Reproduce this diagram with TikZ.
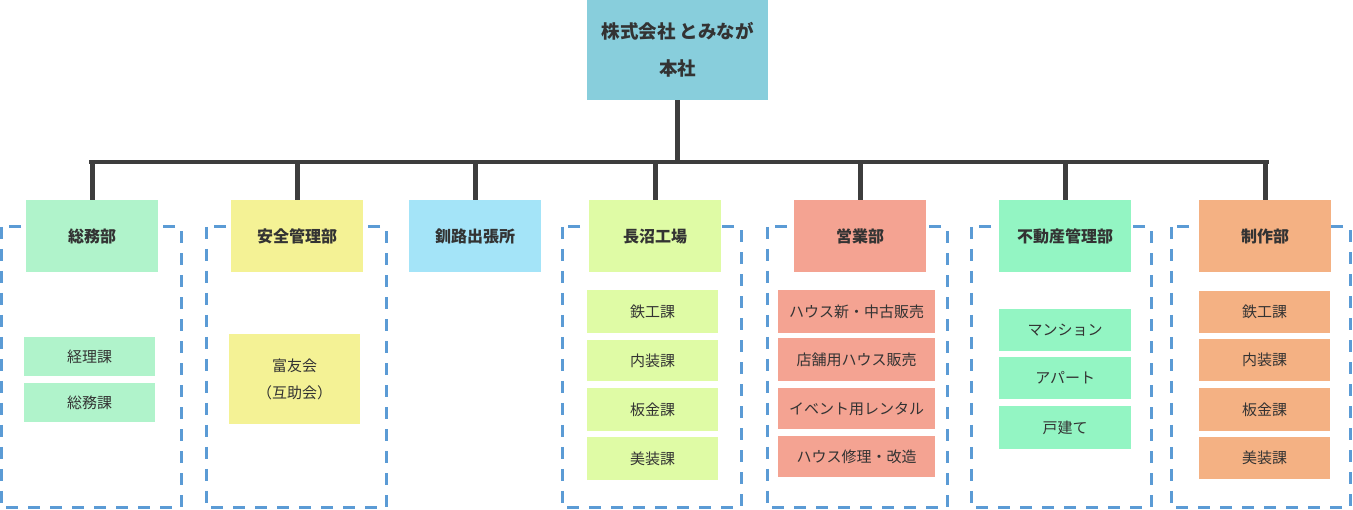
\documentclass[tikz,border=0pt]{standalone}
\usepackage{fontspec}
\setmainfont{Noto Sans CJK JP}
\definecolor{topc}{HTML}{88CEDC}
\definecolor{somu}{HTML}{B0F3CB}
\definecolor{anzen}{HTML}{F4F295}
\definecolor{kushiro}{HTML}{A4E4F8}
\definecolor{naga}{HTML}{DFFBA5}
\definecolor{eigyo}{HTML}{F4A392}
\definecolor{fudo}{HTML}{93F5C3}
\definecolor{seisaku}{HTML}{F4B183}
\definecolor{linec}{HTML}{3D3D3D}
\definecolor{dashc}{HTML}{5B9BD5}
\definecolor{txt}{HTML}{333333}
\begin{document}
\begin{tikzpicture}[x=1pt,y=-1pt,
  box/.style={anchor=north west,inner sep=0pt,text=txt,align=center},
  dept/.style={box,minimum width=132pt,minimum height=72pt,font=\bfseries\fontsize{16}{19}\selectfont},
  sub/.style={box,font=\fontsize{15}{18}\selectfont},
  conn/.style={draw=linec,line width=5pt},
  group/.style={draw=dashc,line width=3pt,dash pattern=on 12pt off 10pt}]
\useasboundingbox (0,0) rectangle (1353,510);
% dashed groups
\draw[group] (1,227) rectangle (181,508);
\draw[group] (206,227) rectangle (386,508);
\draw[group] (562,227) rectangle (741,508);
\draw[group] (767,227) rectangle (947,508);
\draw[group] (971,227) rectangle (1151,508);
\draw[group] (1171,227) rectangle (1350,508);
% top
\node[box,fill=topc,minimum width=181pt,minimum height=100pt,font=\bfseries\fontsize{18.5}{37}\selectfont] (top) at (587,0) {株式会社 とみなが\\本社};
% departments
\node[dept,fill=somu] (d1) at (26,200) {総務部};
\node[dept,fill=anzen] (d2) at (231,200) {安全管理部};
\node[dept,fill=kushiro] (d3) at (409,200) {釧路出張所};
\node[dept,fill=naga] (d4) at (589,200) {長沼工場};
\node[dept,fill=eigyo] (d5) at (794,200) {営業部};
\node[dept,fill=fudo] (d6) at (999,200) {不動産管理部};
\node[dept,fill=seisaku] (d7) at (1199,200) {制作部};
% connectors
\coordinate (barL) at (89,162);
\coordinate (barR) at (1269,162);
\draw[draw=linec,line width=4pt] (barL) -- (barR);
\draw[conn] (top.south) -- (top.south |- barL);
\foreach \d in {d1,d2,d3,d4,d5,d6,d7}{
  \draw[conn] (\d.north) -- (\d.north |- barL);
}
% 総務部 subs
\node[sub,fill=somu,minimum width=131pt,minimum height=39pt] (s11) at (24,337) {経理課};
\node[sub,fill=somu,minimum width=131pt,minimum height=39pt] (s12) at (24,383) {総務課};
% 安全管理部
\node[sub,fill=anzen,minimum width=131pt,minimum height=90pt,font=\fontsize{15}{27}\selectfont] (s21) at (229,334) {富友会\\（互助会）};
% 長沼工場
\node[sub,fill=naga,minimum width=131pt,minimum height=43pt] (s41) at (587,290) {鉄工課};
\node[sub,fill=naga,minimum width=131pt,minimum height=41pt] (s42) at (587,340) {内装課};
\node[sub,fill=naga,minimum width=131pt,minimum height=43pt] (s43) at (587,388) {板金課};
\node[sub,fill=naga,minimum width=131pt,minimum height=43pt] (s44) at (587,437) {美装課};
% 営業部
\node[sub,fill=eigyo,minimum width=157pt,minimum height=43pt] (s51) at (778,290) {ハウス新・中古販売};
\node[sub,fill=eigyo,minimum width=157pt,minimum height=43pt] (s52) at (778,338) {店舗用ハウス販売};
\node[sub,fill=eigyo,minimum width=157pt,minimum height=41pt] (s53) at (778,388) {イベント用レンタル};
\node[sub,fill=eigyo,minimum width=157pt,minimum height=41pt] (s54) at (778,436) {ハウス修理・改造};
% 不動産管理部
\node[sub,fill=fudo,minimum width=132pt,minimum height=42pt] (s61) at (999,309) {マンション};
\node[sub,fill=fudo,minimum width=132pt,minimum height=42pt] (s62) at (999,357) {アパート};
\node[sub,fill=fudo,minimum width=132pt,minimum height=43pt] (s63) at (999,406) {戸建て};
% 制作部
\node[sub,fill=seisaku,minimum width=131pt,minimum height=42pt] (s71) at (1199,291) {鉄工課};
\node[sub,fill=seisaku,minimum width=131pt,minimum height=42pt] (s72) at (1199,339) {内装課};
\node[sub,fill=seisaku,minimum width=131pt,minimum height=43pt] (s73) at (1199,388) {板金課};
\node[sub,fill=seisaku,minimum width=131pt,minimum height=42pt] (s74) at (1199,437) {美装課};
\end{tikzpicture}
\end{document}
